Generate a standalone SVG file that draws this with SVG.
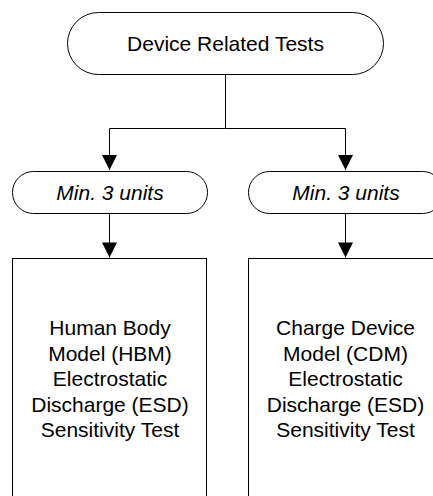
<svg xmlns="http://www.w3.org/2000/svg" width="433" height="496" viewBox="0 0 433 496">
<style>
.shape{fill:#fff;stroke:#000;stroke-width:1}
.t{font-family:"Liberation Sans",Arial,sans-serif;font-size:21px;fill:#000;text-anchor:middle}
.i{font-style:italic}
.c{fill:none;stroke:#000;stroke-width:1}
</style>
<defs>
<marker id="ah" markerWidth="17" markerHeight="15" refX="17" refY="8.5" orient="auto" markerUnits="userSpaceOnUse" viewBox="0 0 17 17">
<path d="M0,0 L17,8.5 L0,17 Z" fill="#000"/>
</marker>
</defs>
<rect width="433" height="496" fill="#fff"/>
<g id="connectors">
<path class="c" d="M225.5,74.5 V128.5 H109.5 V170" marker-end="url(#ah)"/>
<path class="c" d="M225.5,128.5 H345.5 V170" marker-end="url(#ah)"/>
<path class="c" d="M109.5,213.5 V257.5" marker-end="url(#ah)"/>
<path class="c" d="M345.5,213.5 V257.5" marker-end="url(#ah)"/>
</g>
<g id="root">
<rect class="shape" x="67.5" y="12.5" width="316" height="62" rx="31" ry="31"/>
<text class="t" x="225.5" y="51">Device Related Tests</text>
</g>
<g id="minLeft">
<rect class="shape" x="12.5" y="171.5" width="195" height="42" rx="21" ry="21"/>
<text class="t i" x="110" y="199.5">Min. 3 units</text>
</g>
<g id="minRight">
<rect class="shape" x="248.5" y="171.5" width="195" height="42" rx="21" ry="21"/>
<text class="t i" x="346" y="199.5">Min. 3 units</text>
</g>
<g id="hbm">
<rect class="shape" x="12.5" y="258.5" width="194" height="260"/>
<text class="t"><tspan x="110" y="335">Human Body</tspan><tspan x="110" y="360.5">Model (HBM)</tspan><tspan x="110" y="386">Electrostatic</tspan><tspan x="110" y="411.5">Discharge (ESD)</tspan><tspan x="110" y="437">Sensitivity Test</tspan></text>
</g>
<g id="cdm">
<rect class="shape" x="248.5" y="258.5" width="194" height="260"/>
<text class="t"><tspan x="345.5" y="335">Charge Device</tspan><tspan x="345.5" y="360.5">Model (CDM)</tspan><tspan x="345.5" y="386">Electrostatic</tspan><tspan x="345.5" y="411.5">Discharge (ESD)</tspan><tspan x="345.5" y="437">Sensitivity Test</tspan></text>
</g>
</svg>
